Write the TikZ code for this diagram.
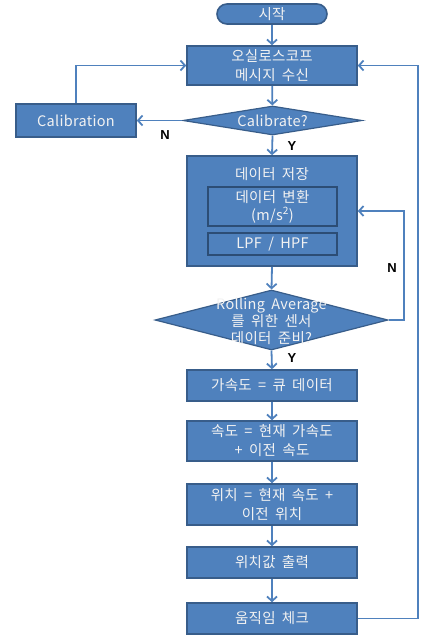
\documentclass[tikz,border=0pt]{standalone}
\usepackage{fontspec}
\setmainfont[WordSpace=1.8,LetterSpace=2]{Noto Sans CJK KR}
\newfontfamily\lblfont{Liberation Sans}
\usetikzlibrary{shapes.geometric,arrows.meta}
\definecolor{boxfill}{HTML}{4F81BD}
\definecolor{boxedge}{HTML}{385D8A}
\definecolor{inneredge}{HTML}{2C4D75}
\definecolor{linecol}{HTML}{4F81BD}
\definecolor{txtcol}{HTML}{F2F2F2}
\tikzset{
  x=1pt, y=-1pt,
  procbox/.style={rectangle, draw=boxedge, fill=boxfill, line width=1.6pt, minimum width=170pt, inner sep=0pt, text=txtcol, align=center, font=\fontsize{14.5}{19}\selectfont},
  innerbox/.style={rectangle, draw=inneredge, fill=boxfill, line width=1.6pt, minimum width=129pt, inner sep=0pt, text=txtcol, align=center, font=\fontsize{14.5}{18}\selectfont},
  diabox/.style={diamond, draw=boxedge, fill=boxfill, line width=1.2pt, inner sep=0pt},
  txtonly/.style={text=txtcol, align=center, inner sep=0pt, font=\fontsize{14.5}{18}\selectfont},
  conn/.style={draw=linecol, line width=1.8pt, -{Straight Barb[length=4.5pt,width=10pt,line width=1.8pt]}},
  yn/.style={font=\lblfont\bfseries\fontsize{13}{15}\selectfont, text=black, inner sep=0pt}
}
\begin{document}
\begin{tikzpicture}
\useasboundingbox (0,0) rectangle (422,641);
% nodes
\node[procbox, minimum width=110pt, minimum height=20pt, rounded corners=10pt] (start) at (272,14) {시작};
\node[procbox, minimum height=39pt] (recv) at (272,65.5) {오실로스코프\\메시지 수신};
\node[diabox, minimum width=179pt, minimum height=29pt] (calq) at (272.5,120.5) {};
\node[txtonly] (calqt) at (calq.center) {Calibrate?};
\node[procbox, minimum width=120pt, minimum height=33pt] (calib) at (76,120.5) {Calibration};
\node[procbox, minimum height=110pt] (store) at (272,211) {};
\node[txtonly] (storet) at (272,174) {데이터 저장};
\node[innerbox, minimum height=39pt] (conv) at (272.5,206.5) {데이터 변환\\(m/s\textsuperscript{2})};
\node[innerbox, minimum height=22pt] (lpf) at (272.5,244) {LPF / HPF};
\node[diabox, minimum width=233pt, minimum height=60pt] (roll) at (271.5,320) {};
\node[txtonly, font=\fontsize{14.5}{17}\selectfont] (rollt) at (271.5,321) {Rolling Average\\를 위한 센서\\데이터 준비?};
\node[procbox, minimum height=31pt] (acc) at (272,385.5) {가속도 = 큐 데이터};
\node[procbox, minimum height=40pt] (vel) at (272,441) {속도 = 현재 가속도\\+ 이전 속도};
\node[procbox, minimum height=41pt] (pos) at (272,504.5) {위치 = 현재 속도 +\\이전 위치};
\node[procbox, minimum height=31pt] (outp) at (272,562.5) {위치값 출력};
\node[procbox, minimum height=31pt] (move) at (272,618.5) {움직임 체크};
\coordinate (nloop) at (404,0);
\coordinate (rloop) at (418,0);
% connectors
\draw[conn] (start) -- (recv);
\draw[conn] (recv) -- (calq);
\draw[conn] (calq.west) -- (calib.east);
\draw[conn] (calib.north) |- (recv.west);
\draw[conn] (calq.south) -- (store.north);
\draw[conn] (store.south) -- (roll.north);
\draw[conn] (roll.east) -- (roll.east -| nloop) -- (store.east -| nloop) -- (store.east);
\draw[conn] (roll.south) -- (acc.north);
\draw[conn] (acc) -- (vel);
\draw[conn] (vel) -- (pos);
\draw[conn] (pos) -- (outp);
\draw[conn] (outp) -- (move);
\draw[conn] (move.east) -- (move.east -| rloop) -- (recv.east -| rloop) -- (recv.east);
% labels
\node[yn] (n1) at (165,135) {N};
\node[yn] (y1) at (292,146) {Y};
\node[yn] (n2) at (392,268) {N};
\node[yn] (y2) at (292,358) {Y};
\end{tikzpicture}
\end{document}
